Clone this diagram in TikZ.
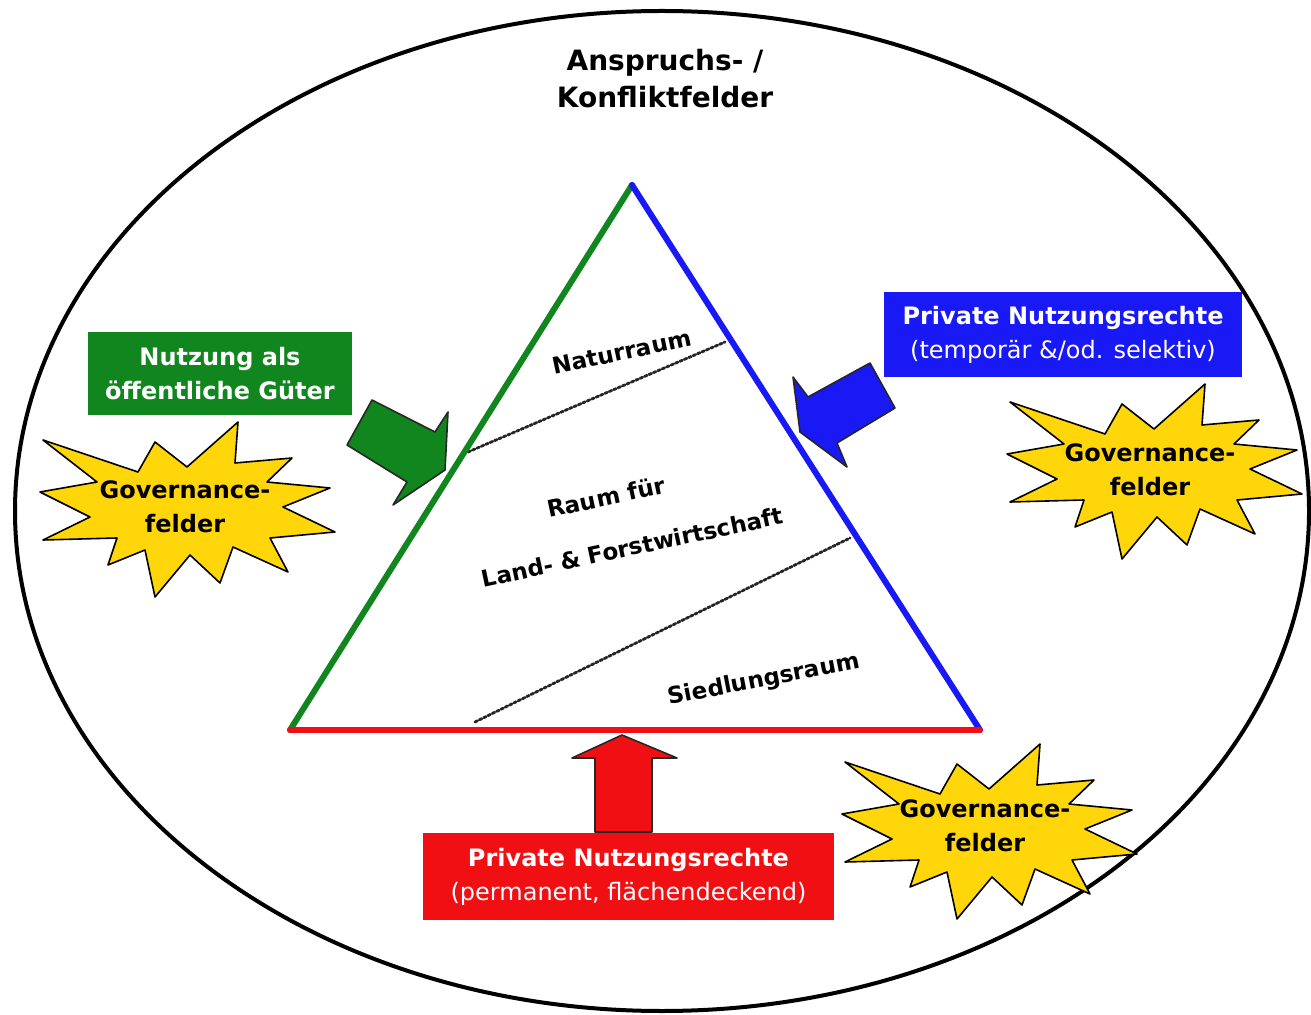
\documentclass[tikz,border=0pt]{standalone}
\usepackage{fontspec}
\setmainfont{DejaVu Sans}
\usetikzlibrary{positioning}
\definecolor{boxgreen}{RGB}{18,134,30}
\definecolor{boxblue}{RGB}{25,25,245}
\definecolor{boxred}{RGB}{240,16,20}
\definecolor{burstyellow}{RGB}{255,214,10}
\tikzset{burst/.pic={
	\draw[fill=burstyellow,line width=0.8pt] (-142,-70) -- (-47,-38) -- (-30,-68) -- (2,-43) -- (53,-88) -- (50,-47) -- (107,-52) -- (82,-28) -- (145,-22) -- (98,-3) -- (150,22) -- (85,28) -- (103,62) -- (48,37) -- (35,73) -- (5,45) -- (-30,87) -- (-40,40) -- (-77,55) -- (-68,28) -- (-142,30) -- (-95,7) -- (-145,-18) -- (-88,-28) -- cycle;
}}

\begin{document}
\begin{tikzpicture}[x=0.5pt,y=-0.5pt,line cap=round,line join=round,
		fieldbox/.style={inner sep=0pt,text=white,align=center,font=\fontsize{12}{17}\selectfont},
		burstlabel/.style={align=center,inner sep=1pt,font=\fontsize{12}{17}\selectfont\bfseries},
		arealabel/.style={inner sep=0.5pt,font=\fontsize{11.5}{14}\selectfont\bfseries},
		blockarrow/.style={draw=black!85,line width=0.8pt}]
	\useasboundingbox (0,0) rectangle (1311,1015);
	\draw[line width=2pt] (662,511) ellipse [x radius=323.5pt, y radius=250pt];
	\node[align=center,font=\fontsize{14}{18.5}\selectfont\bfseries] (anspruch) at (665,79) {Anspruchs- /\\Konfliktfelder};
	\coordinate (top) at (632,185);
	\coordinate (bl) at (290,730);
	\coordinate (br) at (980,730);
	\draw[densely dotted,line width=1.4pt,black!85] (468,452) -- (725,342);
	\draw[densely dotted,line width=1.4pt,black!85] (475,722) -- (850,538);
	\draw[line width=3pt,boxgreen] (bl) -- (top);
	\draw[line width=3pt,boxblue] (top) -- (br);
	\draw[line width=3pt,boxred] (bl) -- (br);
	\node[arealabel,rotate=12] (natur) at (622,352) {Naturraum};
	\node[arealabel,rotate=12] (raum) at (606,497) {Raum für};
	\node[arealabel,rotate=12] (landforst) at (632,547) {Land- \& Forstwirtschaft};
	\node[arealabel,rotate=11] (siedlung) at (764,680) {Siedlungsraum};
	\node[fieldbox,fill=boxgreen,minimum width=132pt,minimum height=41.5pt] (oeffentlich) at (220,373.5) {\textbf{Nutzung als}\\\textbf{öffentliche Güter}};
	\node[fieldbox,fill=boxblue,minimum width=179pt,minimum height=42.5pt] (temporaer) at (1063,334.5) {\textbf{Private Nutzungsrechte}\\(temporär \&/od. selektiv)};
	\node[fieldbox,fill=boxred,minimum width=205.5pt,minimum height=43.5pt] (permanent) at (628.5,876.5) {\textbf{Private Nutzungsrechte}\\(permanent, flächendeckend)};
	\draw[blockarrow,fill=boxgreen] (372,400) -- (435,432) -- (448,412) -- (445,470) -- (393,505) -- (407,482) -- (347,445) -- cycle;
	\draw[blockarrow,fill=boxblue] (793,377) -- (808,397) -- (870,363) -- (895,408) -- (837,443) -- (847,467) -- (800,432) -- cycle;
	\draw[blockarrow,fill=boxred] (622,735) -- (677,758) -- (652,758) -- (652,832) -- (595,832) -- (595,758) -- (572,758) -- cycle;
	\pic at (185,510) {burst};
	\pic at (1152,472) {burst};
	\pic at (987,832) {burst};
	\node[burstlabel] (govlinks) at (185,507) {Governance-\\felder};
	\node[burstlabel] (govrechts) at (1150,470) {Governance-\\felder};
	\node[burstlabel] (govunten) at (985,826) {Governance-\\felder};
\end{tikzpicture}
\end{document}
